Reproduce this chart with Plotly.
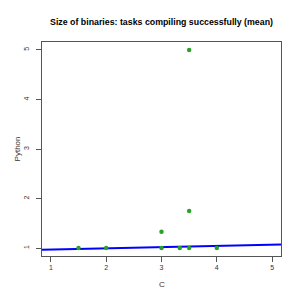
import plotly.graph_objects as go

c_vals = [1.5, 2, 3, 3, 3.33, 3.5, 3.5, 3.5, 4]
py_vals = [1, 1, 1, 1.33, 1, 1, 1.75, 5, 1]
fit_intercept = 0.946
fit_slope = 0.024
x_ticks = [1, 2, 3, 4, 5]
y_ticks = [1, 2, 3, 4, 5]

x_range = [0.84, 5.16]
y_range = [0.84, 5.16]

fig = go.Figure()
fig.add_trace(go.Scatter(
    x=x_range, y=[fit_intercept + fit_slope * x for x in x_range],
    mode="lines", line=dict(color="#0000FF", width=2), showlegend=False))
fig.add_trace(go.Scatter(
    x=c_vals, y=py_vals, mode="markers",
    marker=dict(color="#2BA02B", size=4.5), showlegend=False))

font_small = dict(size=7, color="#333333", family="Liberation Sans")
axis_common = dict(showgrid=False, zeroline=False, showline=True, mirror=True,
                   linecolor="#555555", linewidth=1, ticks="outside", ticklen=5,
                   tickcolor="#555555", tickfont=font_small, automargin=False)
fig.update_xaxes(range=x_range, tickvals=x_ticks, ticktext=[str(v) for v in x_ticks],
                 **axis_common)
fig.update_yaxes(range=y_range, tickvals=y_ticks, ticktext=[str(v) for v in y_ticks],
                 tickangle=-90, ticklabelstandoff=4, **axis_common)
fig.add_annotation(text="C", xref="paper", yref="paper", x=0.5, y=-0.135,
                   xanchor="center", yanchor="middle", showarrow=False,
                   font=dict(size=8, color="#333333", family="Liberation Sans"))
fig.add_annotation(text="Python", xref="paper", yref="paper", x=-0.103, y=0.5,
                   xanchor="center", yanchor="middle", showarrow=False, textangle=-90,
                   font=dict(size=8, color="#333333", family="Liberation Sans"))
fig.update_layout(
    width=291, height=291,
    margin=dict(l=34, r=18, t=34, b=43),
    plot_bgcolor="white", paper_bgcolor="white",
    title=dict(text="<b>Size of binaries: tasks compiling successfully (mean)</b>",
               xref="paper", x=0.5, xanchor="center", yref="container", y=1 - 14 / 291,
               yanchor="middle",
               font=dict(size=8.8, color="#000000", family="Liberation Sans")),
)
fig.write_html("out.html")
